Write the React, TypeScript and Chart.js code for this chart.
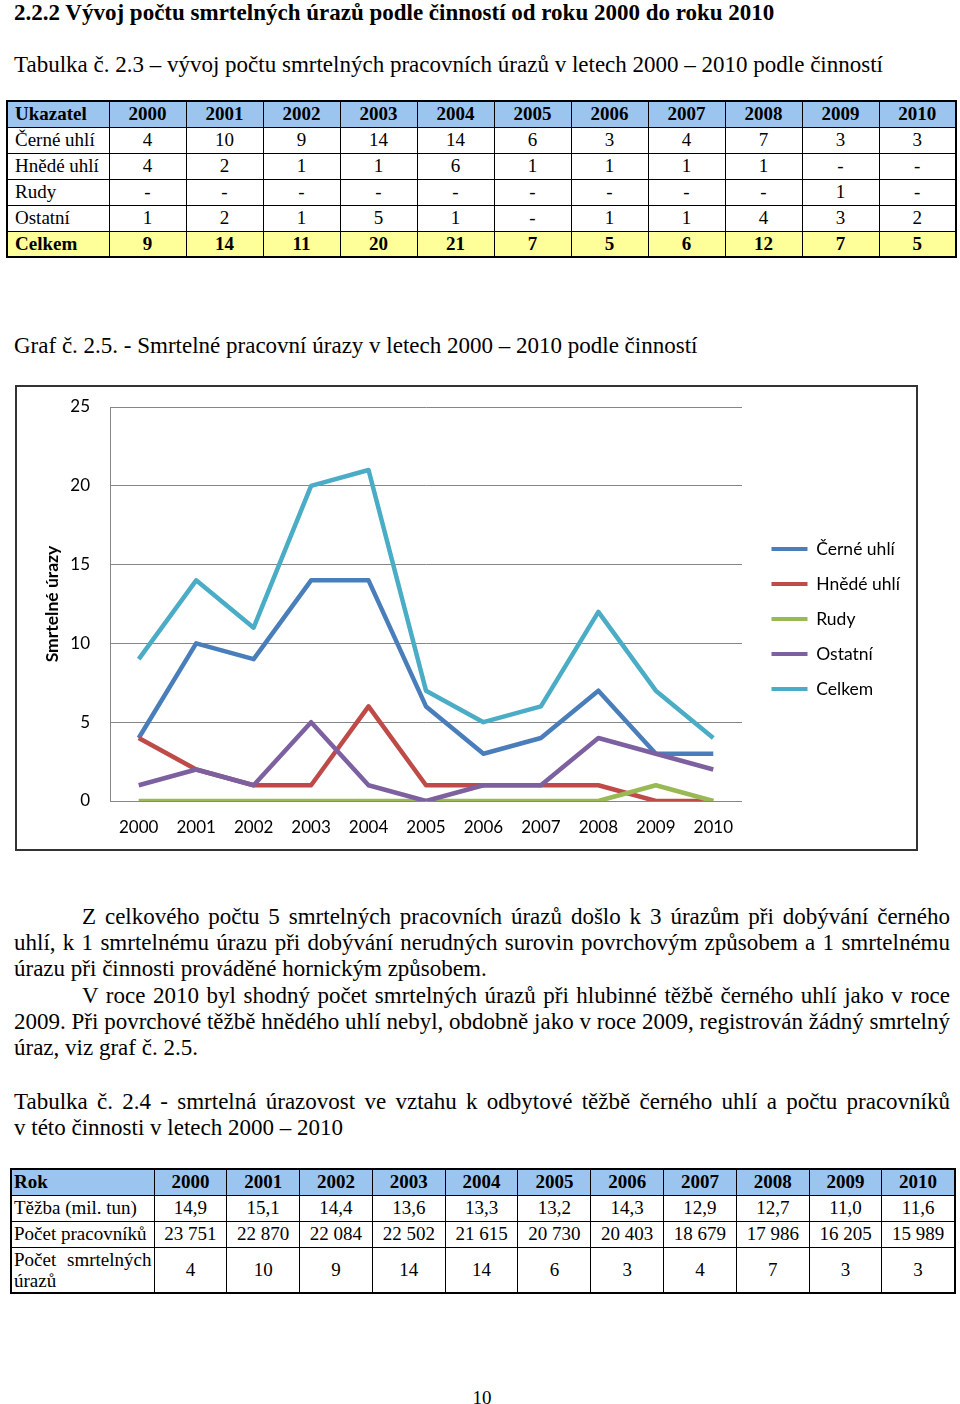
import React, { useEffect, useRef } from 'react';
import { Chart, registerables } from 'chart.js';

Chart.register(...registerables);

// ---------- Data ----------
const years = ['2000', '2001', '2002', '2003', '2004', '2005', '2006', '2007', '2008', '2009', '2010'];

// Table 2.3 (as printed)
const t1Cerne = ['4', '10', '9', '14', '14', '6', '3', '4', '7', '3', '3'];
const t1Hnede = ['4', '2', '1', '1', '6', '1', '1', '1', '1', '-', '-'];
const t1Rudy = ['-', '-', '-', '-', '-', '-', '-', '-', '-', '1', '-'];
const t1Ostatni = ['1', '2', '1', '5', '1', '-', '1', '1', '4', '3', '2'];
const t1Celkem = ['9', '14', '11', '20', '21', '7', '5', '6', '12', '7', '5'];

// Chart 2.5 series (as plotted)
const seriesNames = ['Černé uhlí', 'Hnědé uhlí', 'Rudy', 'Ostatní', 'Celkem'];
const serCerne = [4, 10, 9, 14, 14, 6, 3, 4, 7, 3, 3];
const serHnede = [4, 2, 1, 1, 6, 1, 1, 1, 1, 0, 0];
const serRudy = [0, 0, 0, 0, 0, 0, 0, 0, 0, 1, 0];
const serOstatni = [1, 2, 1, 5, 1, 0, 1, 1, 4, 3, 2];
const serCelkem = [9, 14, 11, 20, 21, 7, 5, 6, 12, 7, 4];
const seriesColors = ['#4A7EBB', '#BE4B48', '#98B954', '#7D60A0', '#4BACC6'];
const yMin = 0;
const yMax = 25;
const yStep = 5;

// Table 2.4
const t2Tezba = ['14,9', '15,1', '14,4', '13,6', '13,3', '13,2', '14,3', '12,9', '12,7', '11,0', '11,6'];
const t2Pracovnici = ['23 751', '22 870', '22 084', '22 502', '21 615', '20 730', '20 403', '18 679', '17 986', '16 205', '15 989'];
const t2Urazy = ['4', '10', '9', '14', '14', '6', '3', '4', '7', '3', '3'];

const SERIF = '"Liberation Serif", "Times New Roman", serif';
const SANS = 'Lato, "Open Sans", sans-serif';

function Txt(props: {
  top: number; left?: number; width?: number; justify?: boolean; bold?: boolean; size?: number; children: any; align?: any;
}) {
  const { top, left = 14, width = 936, justify, bold, size = 23, children, align } = props;
  return (
    <div
      style={{
        position: 'absolute',
        top,
        left,
        width,
        fontSize: size,
        lineHeight: '26px',
        fontWeight: bold ? 'bold' : 'normal',
        textAlign: justify ? 'justify' : align || 'left',
        textAlignLast: justify ? 'justify' : 'auto',
        whiteSpace: justify ? 'normal' : 'nowrap',
      } as any}
    >
      {children}
    </div>
  );
}

const cell: any = {
  border: '1px solid #000',
  padding: 0,
  textAlign: 'center',
  verticalAlign: 'middle',
};

function Table1() {
  const rows: [string, string[], boolean][] = [
    ['Černé uhlí', t1Cerne, false],
    ['Hnědé uhlí', t1Hnede, false],
    ['Rudy', t1Rudy, false],
    ['Ostatní', t1Ostatni, false],
    ['Celkem', t1Celkem, true],
  ];
  return (
    <table
      style={{
        position: 'absolute', left: 6, top: 100, width: 951, borderCollapse: 'collapse', tableLayout: 'fixed',
        border: '2px solid #000', fontSize: 19, lineHeight: '22px', fontFamily: SERIF,
      }}
    >
      <colgroup>
        <col style={{ width: 102 }} />
        {years.map((y) => <col key={y} style={{ width: 77 }} />)}
      </colgroup>
      <tbody>
        <tr style={{ height: 26, background: '#9BC4EE', fontWeight: 'bold' }}>
          <td style={{ ...cell, textAlign: 'left', paddingLeft: 7 }}>Ukazatel</td>
          {years.map((y) => <td key={y} style={cell}>{y}</td>)}
        </tr>
        {rows.map(([label, vals, total]) => (
          <tr key={label} style={{ height: 26, background: total ? '#FFFF99' : '#fff', fontWeight: total ? 'bold' : 'normal' }}>
            <td style={{ ...cell, textAlign: 'left', paddingLeft: 7 }}>{label}</td>
            {vals.map((v, i) => <td key={i} style={cell}>{v}</td>)}
          </tr>
        ))}
      </tbody>
    </table>
  );
}

function Table2() {
  const rows: [string, string[]][] = [
    ['Těžba (mil. tun)', t2Tezba],
    ['Počet pracovníků', t2Pracovnici],
  ];
  return (
    <table
      style={{
        position: 'absolute', left: 10, top: 1168, width: 944, borderCollapse: 'collapse', tableLayout: 'fixed',
        border: '2px solid #000', fontSize: 19, lineHeight: '22px', fontFamily: SERIF,
      }}
    >
      <colgroup>
        <col style={{ width: 143 }} />
        {years.map((y) => <col key={y} style={{ width: 72.8 }} />)}
      </colgroup>
      <tbody>
        <tr style={{ height: 26, background: '#9BC4EE', fontWeight: 'bold' }}>
          <td style={{ ...cell, textAlign: 'left', paddingLeft: 2 }}>Rok</td>
          {years.map((y) => <td key={y} style={cell}>{y}</td>)}
        </tr>
        {rows.map(([label, vals]) => (
          <tr key={label} style={{ height: 26 }}>
            <td style={{ ...cell, textAlign: 'left', paddingLeft: 2, whiteSpace: 'nowrap' }}>{label}</td>
            {vals.map((v, i) => <td key={i} style={cell}>{v}</td>)}
          </tr>
        ))}
        <tr style={{ height: 46 }}>
          <td style={{ ...cell, textAlign: 'justify', paddingLeft: 2, paddingRight: 2, lineHeight: '21px' }}>Počet smrtelných úrazů</td>
          {t2Urazy.map((v, i) => <td key={i} style={cell}>{v}</td>)}
        </tr>
      </tbody>
    </table>
  );
}

function LineChart() {
  const ref = useRef<HTMLCanvasElement>(null);
  useEffect(() => {
    const shiftLegend = {
      id: 'shiftLegend',
      afterLayout(chart: any) {
        const lg = chart.legend;
        if (lg) {
          lg.left += 12; lg.right += 12;
          lg.top -= 9; lg.bottom -= 9;
        }
      },
    };
    const seriesData = [serCerne, serHnede, serRudy, serOstatni, serCelkem];
    const chart = new Chart(ref.current as HTMLCanvasElement, {
      type: 'line',
      data: {
        labels: years,
        datasets: seriesNames.map((name, i) => ({
          label: name,
          data: seriesData[i],
          borderColor: seriesColors[i],
          backgroundColor: seriesColors[i],
          borderWidth: 4.5,
          pointRadius: 0,
          pointHoverRadius: 0,
          tension: 0,
          borderJoinStyle: 'round' as const,
          order: seriesNames.length - i,
        })),
      },
      options: {
        responsive: false,
        animation: false,
        devicePixelRatio: 1,
        layout: { padding: { top: 20, right: 24, bottom: 0, left: 0 } },
        plugins: {
          tooltip: { enabled: false },
          legend: {
            position: 'right',
            maxWidth: 150,
            labels: {
              boxWidth: 36,
              boxHeight: 4,
              padding: 17.5,
              color: '#000',
              font: { family: SANS, size: 17.5 },
              sort: (a: any, b: any) => a.datasetIndex - b.datasetIndex,
              generateLabels: (c: any) =>
                (Chart.defaults.plugins.legend.labels.generateLabels as any)(c).map((l: any) => ({ ...l, lineWidth: 0 })),
            },
          },
        },
        scales: {
          x: {
            offset: true,
            grid: { display: false },
            border: { display: false },
            ticks: { color: '#000', font: { family: SANS, size: 17 }, padding: 8, maxRotation: 0, autoSkip: false },
            afterFit: (s: any) => { s.height = 48; },
          },
          y: {
            min: yMin,
            max: yMax,
            ticks: { stepSize: yStep, color: '#000', font: { family: SANS, size: 17 }, padding: 0 },
            grid: { color: '#868686', lineWidth: 1, drawTicks: true, tickLength: 20, tickColor: 'rgba(0,0,0,0)' },
            border: { display: true, color: '#868686', width: 1 },
            title: {
              display: true,
              text: 'Smrtelné úrazy',
              color: '#000',
              font: { family: SANS, size: 17.5, weight: 'bold' },
              padding: { top: 25, bottom: 0 },
            },
            afterFit: (s: any) => { s.width = 93; },
          },
        },
      },
      plugins: [shiftLegend],
    } as any);
    return () => chart.destroy();
  }, []);
  return <canvas ref={ref} width={899} height={462} style={{ display: 'block' }} />;
}

export default function App() {
  return (
    <div
      style={{
        position: 'absolute', left: 0, top: 0, width: 960, height: 1404, background: '#fff',
        fontFamily: SERIF, color: '#000', overflow: 'hidden',
      }}
    >
      <Txt top={0} bold>2.2.2 Vývoj počtu smrtelných úrazů podle činností od roku 2000 do roku 2010</Txt>
      <Txt top={52}>Tabulka č. 2.3 – vývoj počtu smrtelných pracovních úrazů v letech 2000 – 2010 podle činností</Txt>
      <Table1 />
      <Txt top={333}>Graf č. 2.5. - Smrtelné pracovní úrazy v letech 2000 – 2010 podle činností</Txt>
      <div
        style={{
          position: 'absolute', left: 15, top: 385, width: 899, height: 462,
          border: '2px solid #333', background: '#fff',
        }}
      >
        <LineChart />
      </div>
      <Txt top={904} left={82} width={868} justify>Z celkového počtu 5 smrtelných pracovních úrazů došlo k 3 úrazům při dobývání černého</Txt>
      <Txt top={930} justify>uhlí, k 1 smrtelnému úrazu při dobývání nerudných surovin povrchovým způsobem a 1 smrtelnému</Txt>
      <Txt top={956}>úrazu při činnosti prováděné hornickým způsobem.</Txt>
      <Txt top={983} left={82} width={868} justify>V roce 2010 byl shodný počet smrtelných úrazů při hlubinné těžbě černého uhlí jako v roce</Txt>
      <Txt top={1009} justify>2009. Při povrchové těžbě hnědého uhlí nebyl, obdobně jako v roce 2009, registrován žádný smrtelný</Txt>
      <Txt top={1035}>úraz, viz graf č. 2.5.</Txt>
      <Txt top={1089} justify>Tabulka č. 2.4 - smrtelná úrazovost ve vztahu k odbytové těžbě černého uhlí a počtu pracovníků</Txt>
      <Txt top={1115}>v této činnosti v letech 2000 – 2010</Txt>
      <Table2 />
      <Txt top={1385} left={452} width={60} size={19} align="center">10</Txt>
    </div>
  );
}
